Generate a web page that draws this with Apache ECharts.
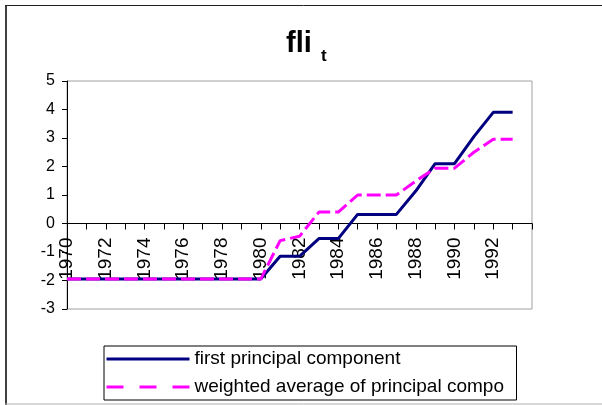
<!DOCTYPE html>
<html>
<head>
<meta charset="utf-8">
<script src="https://cdn.jsdelivr.net/npm/echarts@6/dist/echarts.min.js"></script>
<style>
    html, body { margin: 0; padding: 0; background: #fff; }
    #chart { width: 602px; height: 405px; }
</style>
</head>
<body>
<div id="chart"></div>
<script>
// years on the x axis
var years = [1970, 1971, 1972, 1973, 1974, 1975, 1976, 1977, 1978, 1979, 1980, 1981,
    1982, 1983, 1984, 1985, 1986, 1987, 1988, 1989, 1990, 1991, 1992, 1993];
// first principal component
var firstPC = [-1.95, -1.95, -1.95, -1.95, -1.95, -1.95, -1.95, -1.95, -1.95, -1.95, -1.95,
    -1.15, -1.15, -0.53, -0.53, 0.32, 0.32, 0.32, 1.14, 2.1, 2.1, 3.05, 3.9, 3.9];
// weighted average of principal components
var weighted = [-1.95, -1.95, -1.95, -1.95, -1.95, -1.95, -1.95, -1.95, -1.95, -1.95, -1.95,
    -0.6, -0.45, 0.4, 0.4, 1.0, 1.0, 1.0, 1.49, 1.94, 1.94, 2.5, 2.96, 2.96];
var yTicks = [-3, -2, -1, 0, 1, 2, 3, 4, 5];
var seriesNames = ['first principal component', 'weighted average of principal components'];

var font = '"Liberation Sans", Arial, sans-serif';

function pairs(vals) {
    return years.map(function (y, i) { return [y, vals[i]]; });
}

// x axis sits on y=0, so shift it up from the grid bottom
var gridTop = 81, gridBottom = 96, chartH = 405;
var gridH = chartH - gridTop - gridBottom;
var zeroOffset = -gridH * (0 - yTicks[0]) / (yTicks[yTicks.length - 1] - yTicks[0]);

var myChart = echarts.init(document.getElementById('chart'));
myChart.setOption({
    animation: false,
    title: [
        {
            text: 'fli',
            left: 286,
            top: 29,
            padding: 0,
            textStyle: {fontFamily: font, fontWeight: 'bold', fontSize: 29, color: '#000'}
        },
        {
            text: 't',
            left: 321,
            top: 48,
            padding: 0,
            textStyle: {fontFamily: font, fontWeight: 'bold', fontSize: 17, color: '#000'}
        }
    ],
    grid: {
        left: 67,
        right: 70,
        top: gridTop,
        bottom: gridBottom,
        show: true,
        borderColor: '#a0a0a0',
        borderWidth: 1
    },
    legend: {
        orient: 'vertical',
        left: 104,
        top: 346,
        data: [
            {name: seriesNames[0], lineStyle: {width: 3}},
            {name: seriesNames[1], lineStyle: {width: 3, type: [17, 16]}}
        ],
        itemWidth: 83,
        itemHeight: 14,
        itemGap: 8,
        padding: [3, 0, 3, 1],
        borderColor: '#000',
        borderWidth: 1,
        itemStyle: {opacity: 0},
        textStyle: {
            fontFamily: font,
            fontSize: 19,
            lineHeight: 20,
            color: '#000',
            width: 322,
            overflow: 'truncate',
            ellipsis: ''
        }
    },
    xAxis: {
        type: 'value',
        min: 1970,
        max: 1994,
        interval: 1,
        offset: zeroOffset,
        splitLine: {show: false},
        axisLine: {onZero: false, lineStyle: {color: '#000', width: 1}},
        axisTick: {length: 6, lineStyle: {color: '#000'}},
        axisLabel: {
            rotate: 90,
            margin: 14,
            fontFamily: font,
            fontSize: 19,
            color: '#000',
            formatter: function (v) {
                return (v % 2 === 0 && v < 1994) ? String(v) : '';
            }
        }
    },
    yAxis: {
        type: 'value',
        min: yTicks[0],
        max: yTicks[yTicks.length - 1],
        interval: 1,
        splitLine: {show: false},
        axisLine: {show: true, onZero: false, lineStyle: {color: '#000', width: 1}},
        axisTick: {show: true, length: 5, lineStyle: {color: '#000'}},
        axisLabel: {fontFamily: font, fontSize: 16, color: '#000', margin: 12}
    },
    series: [
        {
            name: seriesNames[0],
            type: 'line',
            data: pairs(firstPC),
            symbol: 'none',
            lineStyle: {color: '#000080', width: 3},
            itemStyle: {color: '#000080'},
            z: 2
        },
        {
            name: seriesNames[1],
            type: 'line',
            data: pairs(weighted),
            symbol: 'none',
            lineStyle: {color: '#ff00ff', width: 3, type: [14, 5]},
            itemStyle: {color: '#ff00ff'},
            z: 3
        }
    ],
    graphic: [
        {type: 'line', shape: {x1: 6, y1: 5, x2: 6, y2: 405}, style: {stroke: '#404040', lineWidth: 2}},
        {type: 'line', shape: {x1: 5, y1: 5.5, x2: 602, y2: 5.5}, style: {stroke: '#202020', lineWidth: 1}},
        {type: 'line', shape: {x1: 5, y1: 404, x2: 602, y2: 404}, style: {stroke: '#b0b0b0', lineWidth: 1}}
    ]
});
</script>
</body>
</html>
